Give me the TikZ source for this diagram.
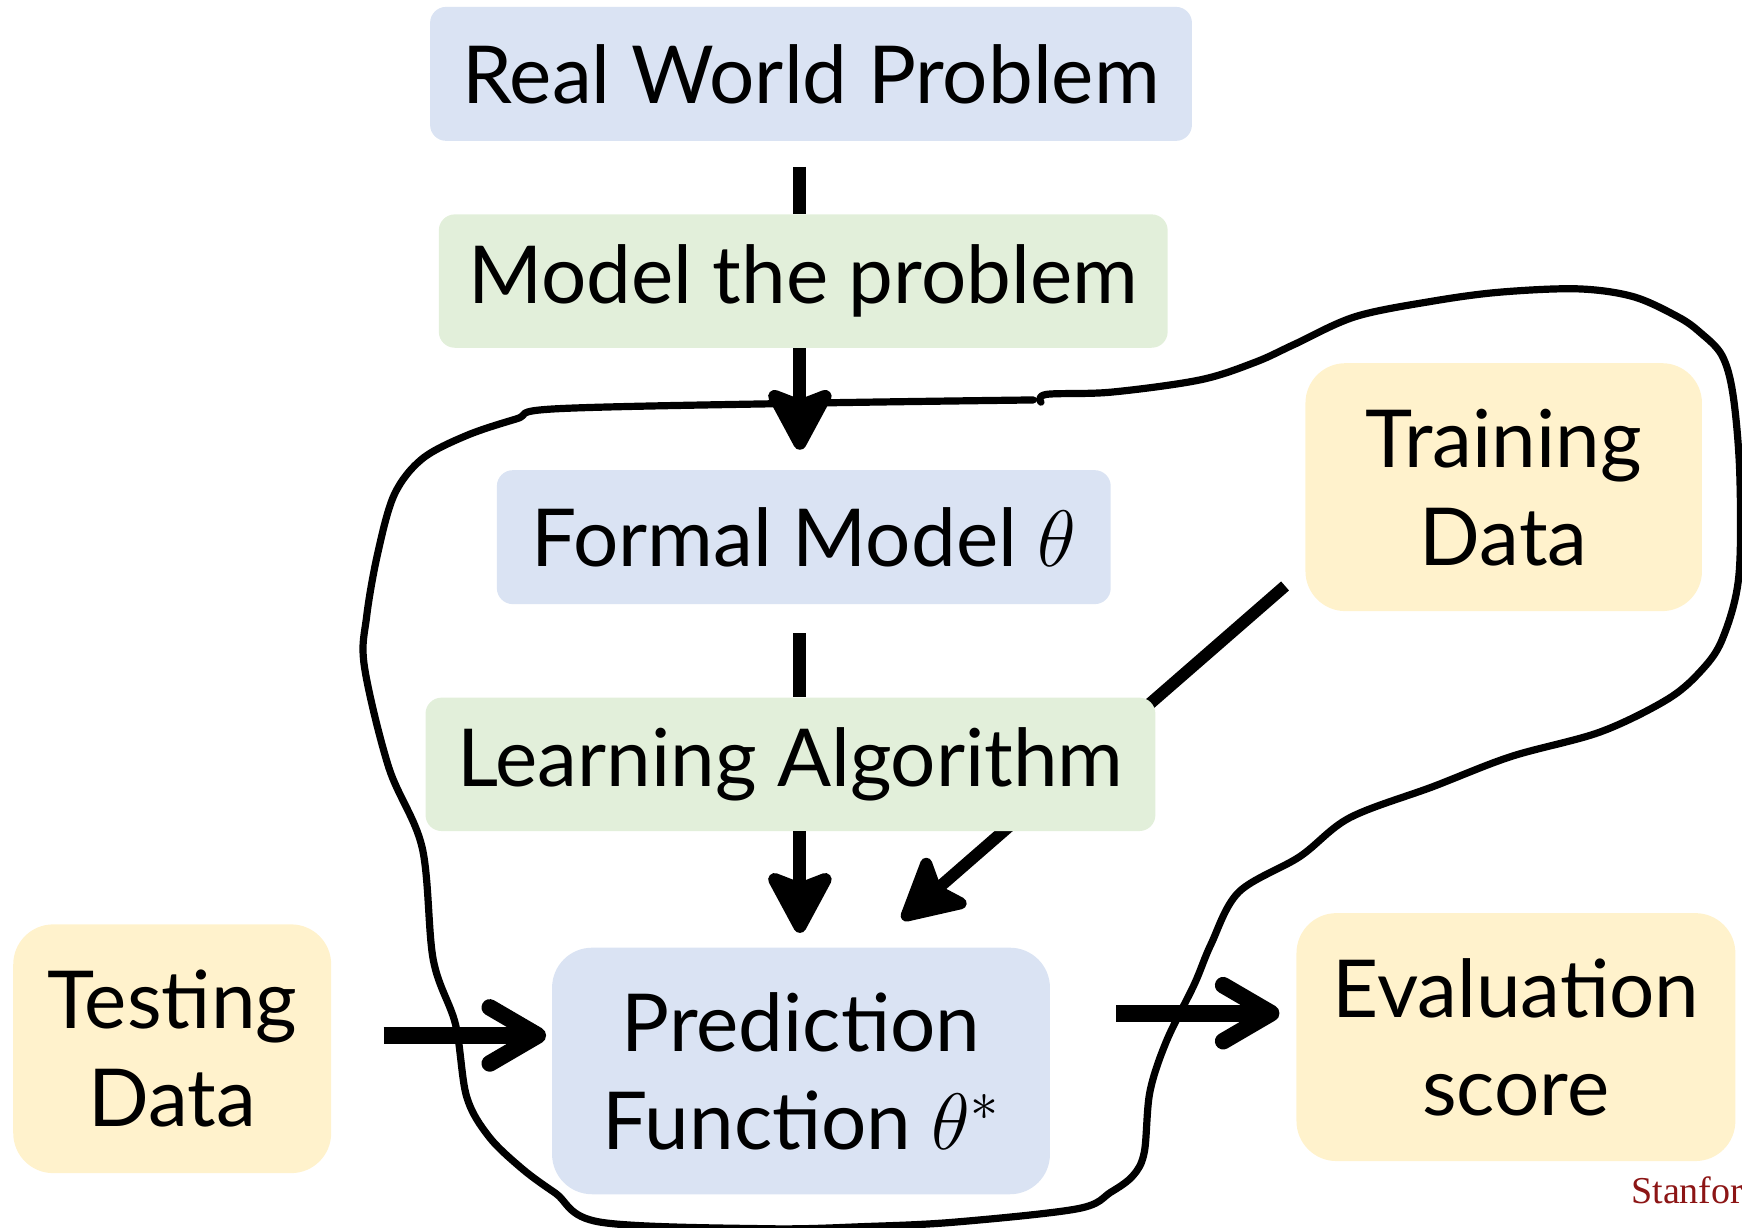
\documentclass[tikz,border=0pt]{standalone}
\usepackage{fix-cm}
\usepackage{fontspec}
\setmainfont{Lato}
\newfontfamily\stanfordfont{Liberation Serif}
\usetikzlibrary{arrows.meta}
\definecolor{boxblue}{HTML}{DAE3F3}
\definecolor{boxgreen}{HTML}{E2EFDA}
\definecolor{boxyellow}{HTML}{FFF2CC}
\definecolor{stanfordred}{HTML}{8C1515}

\begin{document}
\begin{tikzpicture}[x=0.5556pt, y=-0.5556pt,
	box/.style={rounded corners=8pt, inner sep=0pt, align=center, font=\fontsize{40}{49}\selectfont},
	bigbox/.style={box, rounded corners=20pt},
	stem/.style={line width=6.5pt},
	down/.style={stem, -{Stealth[length=36pt, width=38pt, inset=7pt, round]}},
	fat/.style={line width=8.3pt, -{Straight Barb[length=24pt, width=28pt, round]}},
	scribble/.style={line width=3.6pt, line join=round, line cap=round}]
	\useasboundingbox (0,0) rectangle (1568,1105.3);

	% boxes
	\node[box, fill=boxblue, minimum width=381pt, minimum height=67pt] (rwp) at (730,66.5) {Real World Problem};
	\node[box, fill=boxgreen, minimum width=364.5pt, minimum height=66.7pt] (model) at (723,253) {Model the problem};
	\node[box, fill=boxblue, minimum width=307pt, minimum height=67pt] (formal) at (723.5,483.5) {Formal Model $\theta$};
	\node[bigbox, fill=boxyellow, minimum width=198.3pt, minimum height=124pt] (train) at (1353.5,438.5) {Training\\Data};
	\node[bigbox, fill=boxyellow, minimum width=159pt, minimum height=124.4pt] (test) at (155,944) {Testing\\Data};
	\node[bigbox, fill=boxblue, minimum width=249pt, minimum height=123.3pt] (pred) at (721,964) {Prediction\\Function $\theta^*$};
	\node[bigbox, fill=boxyellow, minimum width=219.5pt, minimum height=124pt] (eval) at (1364.5,933.5) {Evaluation\\score};

	% training data goes behind the learning box
	\draw[down, line width=6pt]
		([shift={(-18,-23)}]train.south west) -- ([shift={(91,-25)}]pred.north);
	\node[box, fill=boxgreen, minimum width=365pt, minimum height=66.7pt] (learn) at (711.5,688) {Learning Algorithm};

	% arrows
	\coordinate (axis) at (720,0);
	\coordinate (lane) at (0,932);
	\coordinate (lanetwo) at (0,912);
	\draw[stem, shorten <=12.8pt] (rwp.south -| axis) -- (model.north -| axis);
	\draw[down, shorten >=10pt] (model.south -| axis) -- (formal.north -| axis);
	\draw[stem, shorten <=14.4pt] (formal.south -| axis) -- (learn.north -| axis);
	\draw[down, shorten >=7.2pt] (learn.south -| axis) -- (pred.north -| axis);
	\draw[fat, shorten <=26pt, shorten >=2.8pt] (test.east |- lane) -- (pred.west |- lane);
	\draw[fat, shorten <=33pt, shorten >=8.3pt] (pred.east |- lanetwo) -- (eval.west |- lanetwo);

	% hand drawn loop
	\draw[scribble] plot[smooth, tension=0.55] coordinates {
		(937,362) (942,355) (1000,353) (1080,342) (1130,326) (1165,310) (1220,285)
		(1290,271) (1350,263) (1420,260) (1470,267) (1510,285) (1530,299) (1550,320)
		(1560,356) (1566,427) (1565,520) (1550,576) (1530,605) (1500,630) (1440,659)
		(1360,681) (1290,708) (1215,736) (1170,771) (1115,803) (1090,850) (1075,886)
		(1050,937) (1035,983) (1030,1037) (1020,1058) (1000,1073) (970,1088) (860,1100)
		(780,1104) (690,1106) (540,1100) (500,1074) (470,1052) (440,1023) (420,987)
		(410,922) (390,864) (380,763) (350,691) (328,600) (330,555) (340,498) (355,445)
		(380,413) (420,392) (465,377) (500,368) (720,363) (930,360)};

	\node[anchor=base west, inner sep=0pt, text=stanfordred, font=\stanfordfont\fontsize{19}{23}\selectfont] (logo) at (1468,1083) {Stanfor};
\end{tikzpicture}
\end{document}
